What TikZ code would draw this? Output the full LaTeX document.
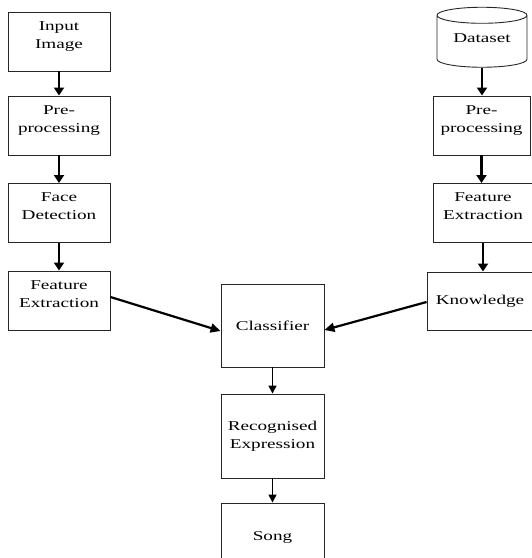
\documentclass[tikz,border=0pt]{standalone}
\usepackage{fontspec}
\setmainfont[FakeStretch=1.42]{Liberation Serif}
\usetikzlibrary{shapes.geometric,arrows.meta,positioning}

\tikzset{
  box/.style={draw=black!85, line width=0.9pt, minimum width=102pt, minimum height=59pt, inner sep=0pt, align=center},
  lbl/.style={align=center, inner sep=0pt},
  thick arrow/.style={-{Triangle[width=10pt,length=8pt]}, line width=2.6pt},
  thin arrow/.style={-{Triangle[width=8pt,length=8pt]}, line width=1.4pt},
  diag arrow/.style={-{Triangle[width=9pt,length=10pt]}, line width=2.2pt},
}

\begin{document}
\begin{tikzpicture}[x=1pt, y=-1pt, every node/.style={font=\fontsize{13.5}{18.2}\selectfont}]
\useasboundingbox (0,0) rectangle (532,558);

% left column
\node (inp) at (59, 41.5) [box] {};
\node (pre1) at (59, 125.5) [box] {};
\node (face) at (59, 213) [box] {};
\node (feat1) at (59, 300.5) [box] {};
\node (inpT) [lbl, below=9.5pt of inp.north] {Input\\Image};
\node (pre1T) [lbl, below=9.5pt of pre1.north] {Pre-\\processing};
\node (faceT) [lbl, below=9.5pt of face.north] {Face\\Detection};
\node (feat1T) [lbl, below=9.5pt of feat1.north] {Feature\\Extraction};

% right column
\node (data) at (482, 43) [cylinder, shape border rotate=90, aspect=0.25, draw=black!85, line width=0.9pt, minimum width=90pt, minimum height=60pt] {\raisebox{1pt}[0pt][0pt]{Dataset}};
\node (pre2) at (481.5, 125.5) [box, minimum width=97pt] {};
\node (feat2) at (483, 213) [box, minimum width=100pt] {};
\node (know) at (480, 301) [box, minimum width=106pt, minimum height=58pt] {\raisebox{-2pt}{Knowledge}};
\node (pre2T) [lbl, below=9.5pt of pre2.north] {Pre-\\processing};
\node (feat2T) [lbl, below=9.5pt of feat2.north] {Feature\\Extraction};

% centre column
\node (cls) at (272.5, 325.5) [box, minimum width=103pt, minimum height=83pt] {\raisebox{-2pt}{Classifier}};
\node (rec) at (272.5, 436) [box, minimum width=103pt, minimum height=84pt] {Recognised\\Expression};
\node (song) at (272.5, 537) [box, minimum width=103pt, minimum height=68pt] {Song};

\draw[thick arrow] (inp) to (pre1);
\draw[thick arrow] (pre1) to (face);
\draw[thick arrow] (face) to (feat1);
\draw[thick arrow] (data.south) to (data.south |- pre2.north);
\draw[thick arrow] (pre2.south) to (pre2.south |- feat2.north);
\draw[thick arrow] (feat2.south) to (feat2.south |- know.north);
\draw[diag arrow] ([yshift=3.5pt]feat1.east) to ([yshift=-5.5pt]cls.west);
\draw[diag arrow] ([yshift=-1pt]know.west) to ([yshift=-4.5pt]cls.east);
\draw[thin arrow] (cls) to (rec);
\draw[thin arrow] (rec) to (song);
\end{tikzpicture}
\end{document}
